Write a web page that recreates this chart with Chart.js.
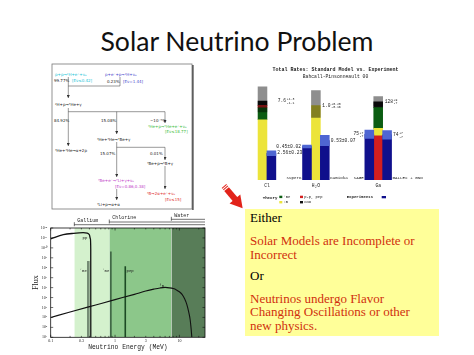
<!DOCTYPE html>
<html>
<head>
<meta charset="utf-8">
<title>Solar Neutrino Problem</title>
<script src="https://cdn.jsdelivr.net/npm/chart.js@4.4.1/dist/chart.umd.min.js"></script>
<style>
  html, body { margin: 0; padding: 0; background: #fff; }
  #page { position: relative; width: 474px; height: 355px; overflow: hidden; }
  #title { position: absolute; left: 0; top: 25.5px; width: 474px; text-align: center;
           font: 26.6px/1.2 Lato, sans-serif; color: #111; }
  #wrap-rates { position: absolute; left: 240px; top: 62px; width: 230px; height: 150px; }
  #wrap-flux { position: absolute; left: 30px; top: 210px; width: 210px; height: 145px; }
  #box { position: absolute; left: 245px; top: 209px; width: 194px; height: 127px; background: #ffff99; }
  #box div { position: absolute; left: 5px; white-space: nowrap; font: 13px/13.5px "Liberation Serif", serif; color: #000; }
  #box .red { color: #d0300e; }
  svg { position: absolute; left: 0; top: 0; }
</style>
</head>
<body>
<div id="page">
  <div id="title">Solar Neutrino Problem</div>

  <!-- pp chain sketch -->
  <svg width="474" height="355" font-family="DejaVu Sans, sans-serif" font-size="4">
    <defs>
      <marker id="ah" markerWidth="3" markerHeight="3" refX="3" refY="1.5" orient="auto" markerUnits="userSpaceOnUse">
        <path d="M0,0L3,1.5L0,3z" fill="#333"/>
      </marker>
    </defs>
    <rect x="52" y="64" width="140" height="145" fill="#fff" stroke="#777" stroke-width="0.8"/>
    <line x1="192.9" y1="65" x2="192.9" y2="210" stroke="#444" stroke-width="1.4"/>
    <g stroke="#333" stroke-width="0.5" fill="none">
      <line x1="68.3" y1="77" x2="68.3" y2="98" marker-end="url(#ah)"/>
      <polyline points="68.3,86 120,86 120,77"/>
      <line x1="68.3" y1="108" x2="68.3" y2="146" marker-end="url(#ah)"/>
      <line x1="68.3" y1="111.7" x2="165" y2="111.7"/>
      <line x1="116.7" y1="111.7" x2="116.7" y2="134" marker-end="url(#ah)"/>
      <line x1="165" y1="111.7" x2="165" y2="123" marker-end="url(#ah)"/>
      <line x1="116.7" y1="142" x2="116.7" y2="177" marker-end="url(#ah)"/>
      <line x1="116.7" y1="147.3" x2="165" y2="147.3"/>
      <line x1="165" y1="147.3" x2="165" y2="160" marker-end="url(#ah)"/>
      <line x1="165" y1="166" x2="165" y2="189" marker-end="url(#ah)"/>
      <line x1="116.7" y1="189" x2="116.7" y2="200" marker-end="url(#ah)"/>
    </g>
    <text x="55" y="75.5" fill="#19c3d6">p+p→²H+e⁺+νₑ</text>
    <text x="72" y="82.2" fill="#19c3d6">[Eν≤0.42]</text>
    <text x="54" y="82.2" fill="#222">99.77%</text>
    <text x="105" y="75.5" fill="#4a4acd">p+e⁻+p→²H+νₑ</text>
    <text x="107" y="82.5" fill="#222">0.23%</text>
    <text x="123" y="82.5" fill="#4a4acd">[Eν=1.44]</text>
    <text x="55" y="106.2" fill="#222">²H+p→³He+γ</text>
    <text x="54" y="121.5" fill="#222">84.92%</text>
    <text x="101" y="121.5" fill="#222">15.08%</text>
    <text x="150" y="121.5" fill="#222">~10⁻⁵%</text>
    <text x="148" y="128.2" fill="#3dbd3d">³He+p→⁴He+e⁺+νₑ</text>
    <text x="165" y="133.2" fill="#3dbd3d">[Eν≤18.77]</text>
    <text x="55" y="151.5" fill="#222">³He+³He→α+2p</text>
    <text x="97" y="140.5" fill="#222">³He+⁴He→⁷Be+γ</text>
    <text x="100" y="154.8" fill="#222">15.07%</text>
    <text x="150" y="154.8" fill="#222">0.01%</text>
    <text x="147" y="164.8" fill="#222">⁷Be+p→⁸B+γ</text>
    <text x="98" y="182.2" fill="#c040c8">⁷Be+e⁻→⁷Li+γ+νₑ</text>
    <text x="115" y="187.5" fill="#c040c8">[Eν=0.86,0.38]</text>
    <text x="147" y="194.8" fill="#e03030">⁸B→2α+e⁺+νₑ</text>
    <text x="165" y="200.8" fill="#e03030">[Eν≤15]</text>
    <text x="97" y="205.5" fill="#222">⁷Li+p→α+α</text>
  </svg>

  <div id="wrap-rates"><canvas id="rates"></canvas></div>
  <div id="wrap-flux"><canvas id="flux"></canvas></div>

  <!-- pointer arrow -->
  <svg width="474" height="355">
    <g transform="translate(224,186) rotate(50)" fill="#e2231a">
      <rect x="0" y="-3" width="1" height="6"/>
      <rect x="2" y="-3" width="1" height="6"/>
      <rect x="4" y="-3" width="14" height="6"/>
      <polygon points="17,-7 29,0 17,7"/>
    </g>
  </svg>

  <div id="box">
    <div style="top:2px">Either</div>
    <div class="red" style="top:25.4px">Solar Models are Incomplete or<br>Incorrect</div>
    <div style="top:60.4px">Or</div>
    <div class="red" style="top:82.9px">Neutrinos undergo Flavor<br>Changing Oscillations or other<br>new physics.</div>
  </div>
</div>

<script>
// ---------- total rates: theory vs experiment ----------
const groupNames = ["Cl", "H₂O", "Ga"];
const groupX = [0.5, 6, 13];
const theoryX = [0, 6, 13];

// SNU for Cl and Ga, fraction of SSM for water
const rate8B = [5.76, 1.0, 12.1];
const rate7Be = [1.15, 0, 34.2];
const ratePP = [0.22, 0, 72.5]; // p-p, pep
const rateCNO = [0.42, 0, 9.6];
const stackOrder = [["8B", "7Be", "pp", "CNO"], ["8B"], ["pp", "8B", "7Be", "CNO"]];
const theoryLo = [6.5, 0.84, 121];
const theoryHi = [8.9, 1.2, 137];
const theoryText = ["7.6", "1.0", "128"];
const theoryUp = ["+1.3", "+0.20", "+9"];
const theoryDn = ["-1.1", "-0.16", "-7"];

const expName = ["", "SuperK", "Kamioka", "SAGE", "GALLEX + GNO"];
const expX = [1, 5, 7, 12, 14];
const expGroup = [0, 1, 1, 2, 2];
const expRate = [2.56, 0.45, 0.53, 75, 74];
const expErr = [0.23, 0.02, 0.07, 7, 7];
const expText = ["2.56±0.23", "0.45±0.02", "0.53±0.07", "75", "74"];
const expUp = ["", "", "", "+7", "+7"];
const expDn = ["", "", "", "-7", "-7"];
const expSide = ["right", "left", "right", "left", "right"];

// layout only
const axisTop = [9.56, 1.342, 164];
const theoryLabelAt = [1.5, 6.5, 13.5];

const compColor = { "8B": "#ece43a", "7Be": "#0b5d12", pp: "#d41f1f", CNO: "#111111" };
const compValues = { "8B": rate8B, "7Be": rate7Be, pp: ratePP, CNO: rateCNO };
const legendTheory = [["7Be", "⁷Be"], ["pp", "p-p, pep"], ["8B", "⁸B"], ["CNO", "CNO"]];
const navy = "#10108c";
const errBlue = "#4f66d2";

let rateSets = [];
groupNames.forEach((g, gi) => {
	stackOrder[gi].forEach((c) => {
		rateSets.push({
			label: g + " " + c,
			data: [{ x: theoryX[gi], y: compValues[c][gi] }],
			yAxisID: "s" + gi,
			backgroundColor: compColor[c],
			order: 3,
		});
	});
	rateSets.push({
		label: g + " range",
		data: [{ x: theoryX[gi], y: [theoryLo[gi], theoryHi[gi]] }],
		yAxisID: "b" + gi,
		backgroundColor: "#8e8e8e",
		order: 1,
		blend: "multiply",
	});
});
expName.forEach((n, i) => {
	let ax = "b" + expGroup[i];
	rateSets.push({ label: n, data: [{ x: expX[i], y: expRate[i] }], yAxisID: ax, backgroundColor: navy, order: 2 });
	rateSets.push({
		label: n + " err",
		data: [{ x: expX[i], y: [expRate[i] - expErr[i], expRate[i] + expErr[i]] }],
		yAxisID: ax,
		backgroundColor: errBlue,
		order: 1,
	});
});

let rateScales = {
	x: { type: "linear", display: false, min: -2, max: 20, offset: false, ticks: { stepSize: 1 } },
};
groupNames.forEach((g, gi) => {
	rateScales["s" + gi] = { axis: "y", position: "left", type: "linear", display: false, min: 0, max: axisTop[gi], stacked: true };
	rateScales["b" + gi] = { axis: "y", position: "left", type: "linear", display: false, min: 0, max: axisTop[gi] };
});

const blendPlugin = {
	id: "blend",
	beforeDatasetDraw(chart, args) {
		let ds = chart.data.datasets[args.index];
		if (ds.blend) {
			chart.ctx.save();
			chart.ctx.globalCompositeOperation = ds.blend;
		}
	},
	afterDatasetDraw(chart, args) {
		if (chart.data.datasets[args.index].blend) chart.ctx.restore();
	},
};

const MONO = '"Liberation Mono", monospace';

// value with stacked +/- errors; side says where the label sits relative to x
function drawRich(ctx, x, y, main, up, dn, side) {
	ctx.font = "4.6px " + MONO;
	let w = ctx.measureText(main).width;
	ctx.font = "3.2px " + MONO;
	let w2 = up ? Math.max(ctx.measureText(up).width, ctx.measureText(dn).width) : 0;
	let x0 = side === "left" ? x - w - w2 - (up ? 0.6 : 0) : x;
	ctx.textAlign = "left";
	ctx.font = "4.6px " + MONO;
	ctx.fillText(main, x0, y);
	if (up) {
		ctx.font = "3.2px " + MONO;
		ctx.fillText(up, x0 + w + 0.6, y - 1.6);
		ctx.fillText(dn, x0 + w + 0.6, y + 1.8);
	}
}

const rateText = {
	id: "rateText",
	afterDraw(chart) {
		let ctx = chart.ctx;
		let xs = chart.scales.x;
		let half = (xs.getPixelForValue(1) - xs.getPixelForValue(0)) / 2;
		ctx.save();
		ctx.fillStyle = "#1a1a1a";
		ctx.textBaseline = "middle";

		ctx.textAlign = "center";
		ctx.font = "bold 5px " + MONO;
		ctx.fillText("Total Rates: Standard Model vs. Experiment", 95.5, 7.5);
		ctx.font = "4.75px " + MONO;
		ctx.fillText("Bahcall-Pinsonneault 00", 95.5, 14.3);

		// theory values
		groupNames.forEach((g, gi) => {
			let total = stackOrder[gi].reduce((s, c) => s + compValues[c][gi], 0);
			let py = chart.scales["s" + gi].getPixelForValue(total);
			drawRich(ctx, xs.getPixelForValue(theoryLabelAt[gi]) + 2, py, theoryText[gi], theoryUp[gi], theoryDn[gi], "right");
			ctx.textAlign = "center";
			ctx.font = "4.6px " + MONO;
			ctx.fillText(g, xs.getPixelForValue(groupX[gi]), 123.7);
		});

		// experiment values and names
		expName.forEach((n, i) => {
			let right = expSide[i] === "right";
			let py = chart.scales["b" + expGroup[i]].getPixelForValue(expRate[i]);
			let px = right ? xs.getPixelForValue(expX[i]) + half + 1.5 : xs.getPixelForValue(expX[i]) - half - 1.5;
			drawRich(ctx, px, py, expText[i], expUp[i], expDn[i], expSide[i]);
			if (n) {
				ctx.font = "4.2px " + MONO;
				ctx.textAlign = right ? "left" : "right";
				ctx.fillText(n, right ? px - 0.5 : px + 0.5, 115.5);
			}
		});

		// legend
		ctx.textAlign = "left";
		ctx.font = "bold 4.1px " + MONO;
		ctx.fillText("Theory", 22.7, 135.7);
		legendTheory.forEach(([c, txt], k) => {
			let lx = k % 2 === 0 ? 39.3 : 60;
			let ly = k < 2 ? 133.7 : 139;
			ctx.fillStyle = compColor[c];
			ctx.fillRect(lx, ly, 3, 2.4);
			ctx.fillStyle = "#1a1a1a";
			ctx.font = "3.8px " + MONO;
			ctx.fillText(txt, lx + 4.2, ly + 1.3);
		});
		ctx.font = "bold 4px " + MONO;
		ctx.fillText("Experiments", 106.7, 134.9);
		ctx.fillStyle = navy;
		ctx.fillRect(141.7, 134, 4.3, 2.3);
		ctx.restore();
	},
};

new Chart(document.getElementById("rates"), {
	type: "bar",
	data: { datasets: rateSets },
	options: {
		responsive: true,
		maintainAspectRatio: false,
		animation: false,
		layout: { padding: { left: 4.7, right: 29.5, top: 18, bottom: 32 } },
		datasets: { bar: { grouped: false, categoryPercentage: 1, barPercentage: 1, borderWidth: 0 } },
		plugins: { legend: { display: false }, tooltip: { enabled: false } },
		scales: rateScales,
	},
	plugins: [blendPlugin, rateText],
});

// ---------- neutrino spectrum ----------
const ppEnergy = [0.1, 0.157, 0.225, 0.32, 0.37, 0.399, 0.414, 0.419, 0.42];
const ppFlux = [8.1e10, 2.1e11, 2.9e11, 3.4e11, 3.1e11, 2.1e11, 8.1e10, 7.9e9, 10];
const b8Energy = [0.1, 0.2, 0.5, 1, 2, 3, 4, 5, 6, 7, 8, 9, 10, 11, 12, 13, 14, 14.7, 15.2, 15.6];
const b8Flux = [1e3, 3.5e3, 1.8e4, 6.2e4, 2.1e5, 4.5e5, 7e5, 9.3e5, 1.05e6, 9.5e5, 8e5, 5.9e5, 3.8e5, 2.1e5, 8e4, 2.2e4, 3.2e3, 5.9e2, 80, 10];
const lineEnergy = [0.384, 0.862, 1.442];
const lineFlux = [4.8e8, 4.3e9, 1.4e8];
const lineNames = ["⁷Be", "⁷Be", "pep"];
const thresholds = [0.233, 0.814, 7.5];
const detectorNames = ["Gallium", "Chlorine", "Water"];
const energyTicks = [0.1, 0.3, 1, 3, 10];
const energyMinor = [0.2, 0.3, 0.4, 0.5, 0.6, 0.7, 0.8, 0.9, 2, 3, 4, 5, 6, 7, 8, 9, 20];
const energyMajor = [0.1, 1, 10];
const fluxTicks = [1e1, 1e2, 1e3, 1e4, 1e5, 1e6, 1e7, 1e8, 1e9, 1e10, 1e11, 1e12];

const regionColor = ["#d4f1cd", "#8cc78a", "#587d58"];
const lineColor = ["#758c75", "#22402a", "#1c4a24"];
const lineWidth = [2.6, 1.2, 1.6];
const SUP = "⁰¹²³⁴⁵⁶⁷⁸⁹";
const toSup = (n) => String(n).split("").map((d) => SUP[+d]).join("");

let fluxSets = [];
fluxSets.push({
	label: "pp",
	data: ppEnergy.map((e, i) => ({ x: e, y: ppFlux[i] })),
	showLine: true, borderColor: "#111", borderWidth: 1.3, pointRadius: 0, cubicInterpolationMode: "monotone",
});
fluxSets.push({
	label: "8B",
	data: b8Energy.map((e, i) => ({ x: e, y: b8Flux[i] })),
	showLine: true, borderColor: "#111", borderWidth: 1.1, pointRadius: 0, cubicInterpolationMode: "monotone",
});
lineEnergy.forEach((e, i) => {
	fluxSets.push({
		label: lineNames[i],
		data: [{ x: e, y: fluxTicks[0] }, { x: e, y: lineFlux[i] }],
		showLine: true, borderColor: lineColor[i], borderWidth: lineWidth[i], pointRadius: 0,
	});
});
thresholds.forEach((t, i) => {
	let end = i + 1 < thresholds.length ? thresholds[i + 1] : 25;
	fluxSets.push({
		label: detectorNames[i],
		data: [{ x: t, y: 1e12 }, { x: end, y: 1e12 }],
		showLine: true, fill: "start", backgroundColor: regionColor[i],
		borderColor: "rgba(0,0,0,0)", borderWidth: 0, pointRadius: 0,
	});
});

const fluxDecor = {
	id: "fluxDecor",
	afterDatasetsDraw(chart) {
		let { ctx, chartArea: a } = chart;
		let x = chart.scales.x, y = chart.scales.y;
		ctx.save();
		ctx.strokeStyle = "#111";
		ctx.lineWidth = 0.8;
		ctx.strokeRect(a.left, a.top, a.right - a.left, a.bottom - a.top);

		ctx.lineWidth = 0.6;
		ctx.beginPath();
		fluxTicks.forEach((v) => {
			let py = y.getPixelForValue(v);
			ctx.moveTo(a.left, py); ctx.lineTo(a.left + 2.5, py);
			ctx.moveTo(a.right, py); ctx.lineTo(a.right - 2.5, py);
		});
		energyMajor.concat(energyMinor).forEach((v) => {
			let px = x.getPixelForValue(v);
			let len = energyMajor.includes(v) ? 2.5 : 1.4;
			ctx.moveTo(px, a.bottom); ctx.lineTo(px, a.bottom - len);
			ctx.moveTo(px, a.top); ctx.lineTo(px, a.top + len);
		});
		ctx.stroke();

		// detector thresholds above the frame
		let gaps = [3.3, 6, 8.7];
		ctx.fillStyle = "#222";
		ctx.textBaseline = "middle";
		ctx.font = "5px " + MONO;
		thresholds.forEach((t, i) => {
			let px = x.getPixelForValue(t);
			let py = a.top - gaps[i];
			ctx.beginPath();
			ctx.moveTo(px, py - 2.5); ctx.lineTo(px, py + 1.5);
			ctx.moveTo(px, py); ctx.lineTo(a.right, py);
			ctx.stroke();
			ctx.fillText(detectorNames[i], px + 3, py - 4);
		});

		// curve labels
		ctx.font = "4px " + MONO;
		ctx.textAlign = "center";
		ctx.fillText("pp", x.getPixelForValue(0.341), y.getPixelForValue(1e11));
		ctx.fillText("⁸B", x.getPixelForValue(5.3), y.getPixelForValue(1.45e6));
		lineEnergy.forEach((e, i) => {
			let px = x.getPixelForValue(e);
			ctx.textAlign = i < 2 ? "right" : "left";
			ctx.fillText(lineNames[i], i < 2 ? px - 1.5 : px + 1.2, y.getPixelForValue(4.9e7));
		});
		ctx.restore();
	},
};

new Chart(document.getElementById("flux"), {
	type: "scatter",
	data: { datasets: fluxSets },
	options: {
		responsive: true,
		maintainAspectRatio: false,
		animation: false,
		layout: { padding: { left: 1.5, right: 35, top: 18, bottom: 0 } },
		plugins: { legend: { display: false }, tooltip: { enabled: false } },
		scales: {
			x: {
				type: "logarithmic",
				min: 0.1,
				max: 25,
				afterBuildTicks: (s) => { s.ticks = energyTicks.map((v) => ({ value: v })); },
				afterFit: (s) => { s.height = 17.7; },
				grid: { display: false, drawTicks: false },
				border: { display: false },
				ticks: {
					autoSkip: false, maxRotation: 0, padding: 1, color: "#222",
					font: { size: 4, family: "Liberation Serif" },
					callback: (v) => String(v),
				},
				title: {
					display: true, text: "Neutrino Energy (MeV)", color: "#222",
					font: { size: 6.3, family: "Liberation Mono" },
					padding: { top: 0, bottom: 4.2 },
				},
			},
			y: {
				type: "logarithmic",
				min: 10,
				max: 1e12,
				afterBuildTicks: (s) => { s.ticks = fluxTicks.map((v) => ({ value: v })); },
				afterFit: (s) => { s.width = 19.2; },
				grid: { display: false, drawTicks: false },
				border: { display: false },
				ticks: {
					autoSkip: false, padding: 3.5, color: "#222",
					font: { size: 4, family: "Liberation Serif" },
					callback: (v) => "10" + toSup(Math.round(Math.log10(v))),
				},
				title: {
					display: true, text: "Flux", color: "#222",
					font: { size: 8, family: "Liberation Serif" },
					padding: { top: 0, bottom: 0 },
				},
			},
		},
	},
	plugins: [fluxDecor],
});
</script>
</body>
</html>
